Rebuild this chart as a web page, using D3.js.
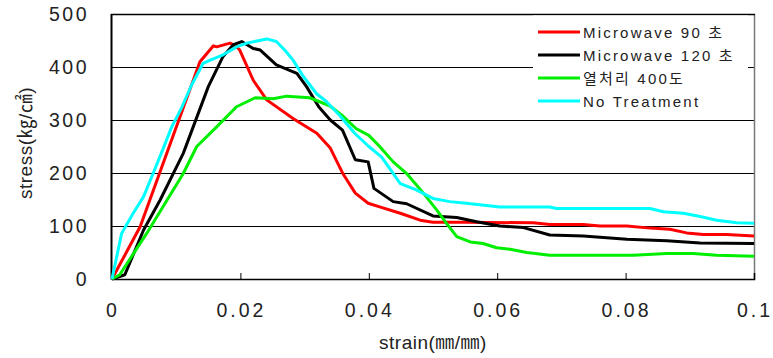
<!DOCTYPE html>
<html>
<head>
<meta charset="utf-8">
<script src="https://cdn.jsdelivr.net/npm/d3@7"></script>
<style>
  body { margin: 0; background: #fff; }
  svg text { font-family: "Liberation Sans", "Noto Sans CJK KR", sans-serif; fill: #222; }
</style>
</head>
<body>
<div id="chart"></div>
<script>
// series: [strain, stress] points
var mw90 = [[0,0],[0.0044,99],[0.0137,410],[0.0158,440],[0.0163,438],[0.0184,445],[0.0194,438],
  [0.0199,432],[0.022,375],[0.0241,338],[0.0282,303],[0.0319,275],[0.034,247],[0.036,198],
  [0.0379,162],[0.0399,143],[0.0417,136],[0.0449,124],[0.048,111],[0.05,107],[0.0552,107],
  [0.0656,106],[0.0682,103],[0.0734,103],[0.076,100],[0.0802,100],[0.0838,96],[0.0869,94],
  [0.0895,87],[0.0921,84],[0.0957,84],[0.1,81]];
var mw120 = [[0,0],[0.002,8],[0.0049,92],[0.0075,149],[0.0111,237],[0.015,363],[0.0173,420],
  [0.0189,442],[0.0202,448],[0.022,435],[0.0231,432],[0.0256,404],[0.0288,388],[0.0303,363],
  [0.0322,325],[0.034,300],[0.0359,281],[0.0379,225],[0.0399,221],[0.0408,171],[0.0438,146],
  [0.0459,142],[0.05,119],[0.0537,116],[0.0568,108],[0.0604,100],[0.0641,97],[0.0682,83],
  [0.0734,81],[0.0802,75],[0.0864,72],[0.0916,68],[0.1,67]];
var heat400 = [[0,0],[0.0012,8],[0.0054,86],[0.0111,199],[0.0132,250],[0.0163,287],[0.0194,325],
  [0.0223,342],[0.0251,340],[0.0272,345],[0.0308,342],[0.034,326],[0.036,307],[0.038,284],
  [0.04,271],[0.0417,250],[0.0438,221],[0.0459,199],[0.0485,162],[0.0506,130],[0.0521,105],
  [0.0537,80],[0.0558,70],[0.0578,67],[0.0599,59],[0.062,56],[0.0646,50],[0.0682,45],
  [0.0812,45],[0.0864,48],[0.0905,48],[0.0942,45],[0.1,43]];
var noTreat = [[0,0],[0.0015,86],[0.0033,124],[0.0049,155],[0.0064,199],[0.008,247],[0.0093,287],
  [0.0108,322],[0.0124,366],[0.0142,407],[0.0153,413],[0.0173,423],[0.0194,438],[0.021,445],
  [0.0241,453],[0.0256,448],[0.0269,432],[0.0282,413],[0.0298,382],[0.0319,349],[0.0334,335],
  [0.0355,308],[0.0378,275],[0.04,250],[0.042,230],[0.0433,208],[0.0449,180],[0.0474,168],
  [0.05,152],[0.0526,146],[0.0552,143],[0.0604,136],[0.0682,136],[0.0692,133],[0.0838,133],
  [0.0859,127],[0.089,124],[0.0916,118],[0.0942,111],[0.0973,106],[0.1,105]];

var seriesNames = ["Microwave 90 초", "Microwave 120 초", "열처리 400도", "No Treatment"];
var seriesColors = ["#ff0000", "#000000", "#00ee00", "#00ffff"];
var seriesData = [mw90, mw120, heat400, noTreat];

var xTicks = [0, 0.02, 0.04, 0.06, 0.08, 0.1];
var xTickLabels = ["0", "0.02", "0.04", "0.06", "0.08", "0.1"];
var yTicks = [0, 100, 200, 300, 400, 500];

var width = 773;
var height = 358;
var plotLeft = 112;
var plotRight = 754;
var plotTop = 14;
var plotBottom = 279;

var svg = d3.select("#chart")
  .append("svg")
  .attr("width", width)
  .attr("height", height);

var xScale = d3.scaleLinear().domain([0, 0.1]).range([plotLeft, plotRight]);
var yScale = d3.scaleLinear().domain([0, 500]).range([plotBottom, plotTop]);

// gridlines (horizontal)
svg.append("g")
  .attr("class", "grid")
  .attr("transform", "translate(" + plotLeft + ",0)")
  .call(d3.axisLeft(yScale).tickValues(yTicks).tickSize(-(plotRight - plotLeft)).tickFormat(""))
  .call(function(g) {
    g.select(".domain").remove();
    g.selectAll("line").attr("stroke", "#000").attr("stroke-width", 1);
  });

// right border
svg.append("line")
  .attr("x1", plotRight + 0.5).attr("x2", plotRight + 0.5)
  .attr("y1", plotTop).attr("y2", plotBottom)
  .attr("stroke", "#777").attr("stroke-width", 1.5);

// x axis: ticks pointing inward
var xAxis = d3.axisBottom(xScale).tickValues(xTicks).tickSize(-6).tickFormat("");
svg.append("g")
  .attr("transform", "translate(0," + plotBottom + ")")
  .call(xAxis)
  .call(function(g) {
    g.select(".domain").attr("stroke", "#000").attr("stroke-width", 1.5);
    g.selectAll("line").attr("stroke", "#000");
  });

// left axis line
svg.append("line")
  .attr("x1", plotLeft - 0.5).attr("x2", plotLeft - 0.5)
  .attr("y1", plotTop).attr("y2", plotBottom + 0.5)
  .attr("stroke", "#000").attr("stroke-width", 2);

// tick labels
svg.append("g").selectAll("text")
  .data(yTicks)
  .enter()
  .append("text")
  .attr("x", 89)
  .attr("y", function(d) { return yScale(d) + 7; })
  .attr("text-anchor", "end")
  .attr("font-size", 19.5)
  .attr("letter-spacing", 2.5)
  .text(function(d) { return d; });

svg.append("g").selectAll("text")
  .data(xTicks)
  .enter()
  .append("text")
  .attr("x", function(d) { return xScale(d) + 1; })
  .attr("y", 317)
  .attr("text-anchor", "middle")
  .attr("font-size", 19.5)
  .attr("letter-spacing", 3)
  .text(function(d, i) { return xTickLabels[i]; });

// axis titles
svg.append("text")
  .attr("x", (plotLeft + plotRight) / 2)
  .attr("y", 349)
  .attr("text-anchor", "middle")
  .attr("font-size", 19)
  .attr("letter-spacing", 0.5)
  .text("strain(㎜/㎜)");

svg.append("text")
  .attr("transform", "translate(32," + 143 + ")rotate(-90)")
  .attr("text-anchor", "middle")
  .attr("font-size", 19)
  .attr("letter-spacing", 0.5)
  .text("stress(㎏/㎠)");

// curves
var line = d3.line()
  .x(function(d) { return xScale(d[0]); })
  .y(function(d) { return yScale(d[1]); });

svg.append("g").selectAll("path")
  .data(seriesData)
  .enter()
  .append("path")
  .attr("d", line)
  .attr("fill", "none")
  .attr("stroke", function(d, i) { return seriesColors[i]; })
  .attr("stroke-width", 3)
  .attr("stroke-linejoin", "round");

// top border
svg.append("line")
  .attr("x1", plotLeft - 1).attr("x2", plotRight + 1)
  .attr("y1", plotTop + 0.5).attr("y2", plotTop + 0.5)
  .attr("stroke", "#000").attr("stroke-width", 1.5);

// legend
var legend = svg.append("g");
legend.append("rect")
  .attr("x", 533).attr("y", plotTop + 1.5)
  .attr("width", 215).attr("height", 103)
  .attr("fill", "#fff");

var legendItems = legend.selectAll("g.item")
  .data(seriesNames)
  .enter()
  .append("g")
  .attr("class", "item")
  .attr("transform", function(d, i) { return "translate(538," + (32 + i * 23) + ")"; });

legendItems.append("line")
  .attr("x1", 0).attr("x2", 42)
  .attr("stroke", function(d, i) { return seriesColors[i]; })
  .attr("stroke-width", 3);

legendItems.append("text")
  .attr("x", 45)
  .attr("y", 5.5)
  .attr("font-size", 15)
  .attr("letter-spacing", 2.2)
  .text(function(d) { return d; });
</script>
</body>
</html>
